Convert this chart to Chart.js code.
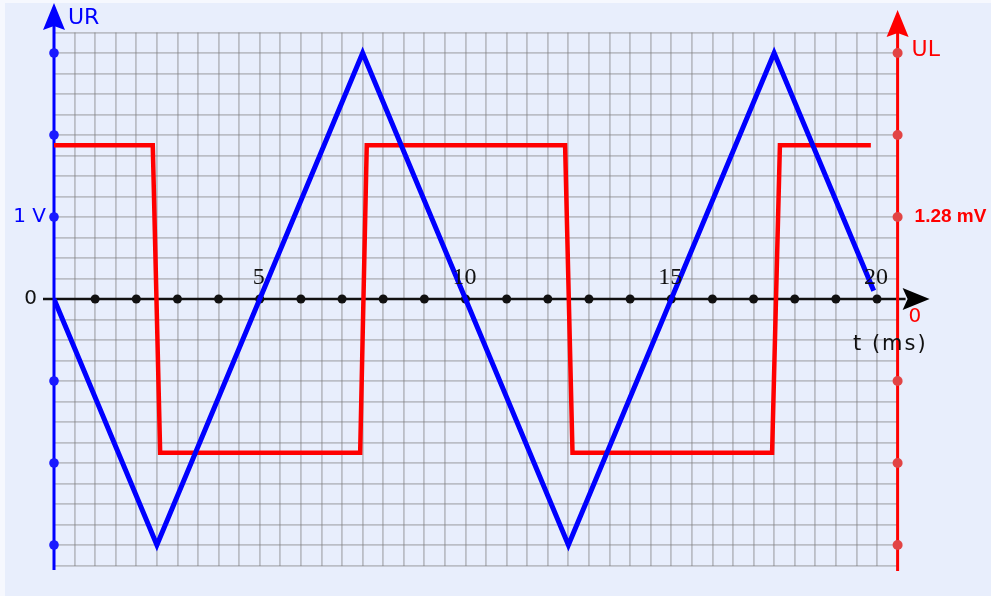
<!DOCTYPE html>
<html>
<head>
<meta charset="utf-8">
<script src="https://cdn.jsdelivr.net/npm/chart.js@4.4.0/dist/chart.umd.min.js"></script>
<style>
  html, body { margin: 0; padding: 0; background: #f6f8fe; }
  #wrap { width: 991px; height: 596px; }
</style>
</head>
<body>
<div id="wrap"><canvas id="osc" width="991" height="596"></canvas></div>
<script>
// UR (V) : triangle, UL (mV) : square, time in ms
const tUR = [0, 2.5, 7.5, 12.5, 17.5, 19.92];
const valUR = [0, -3, 3, -3, 3, 0.1];
const tUL = [0, 2.4, 2.58, 7.44, 7.6, 12.42, 12.6, 17.45, 17.64, 19.85];
const valUL = [2.4, 2.4, -2.4, -2.4, 2.4, 2.4, -2.4, -2.4, 2.4, 2.4];

// graduations
const tLabels = ['5', '10', '15', '20'];
const tLabelPos = [5, 10, 15, 20];
const tDots = [1, 2, 3, 4, 5, 6, 7, 8, 9, 10, 11, 12, 13, 14, 15, 16, 17, 18, 19, 20];
const urDots = [-3, -2, -1, 1, 2, 3];
const ulDots = [-3.84, -2.56, -1.28, 1.28, 2.56, 3.84];

const BG = '#e8eefc';
const GRID = 'rgba(125,125,125,0.42)';

function dot(c, x, y, r, col) {
  c.beginPath();
  c.arc(x, y, r, 0, Math.PI * 2);
  c.fillStyle = col;
  c.fill();
}

function arrowUp(c, x, tip, base, half, col) {
  c.beginPath();
  c.moveTo(x, tip);
  c.lineTo(x + half, base);
  c.lineTo(x, base - 4);
  c.lineTo(x - half, base);
  c.closePath();
  c.fillStyle = col;
  c.fill();
}

const axesPlugin = {
  id: 'oscAxes',
  beforeDraw(chart) {
    const c = chart.ctx;
    c.save();
    c.fillStyle = BG;
    c.fillRect(5, 3, chart.width - 5, chart.height - 3);
    c.restore();
  },
  beforeDatasetsDraw(chart) {
    const c = chart.ctx;
    const { x, y, y2 } = chart.scales;
    const xl = x.getPixelForValue(0);
    const xr = x.getPixelForValue(20.5);
    const y0 = y.getPixelForValue(0);
    c.save();

    // time axis
    c.strokeStyle = '#111';
    c.lineWidth = 2.5;
    c.beginPath();
    c.moveTo(xl - 11, y0);
    c.lineTo(xr + 8, y0);
    c.stroke();
    c.beginPath();
    c.moveTo(xr + 32, y0);
    c.lineTo(xr + 5, y0 - 11);
    c.lineTo(xr + 10, y0);
    c.lineTo(xr + 5, y0 + 11);
    c.closePath();
    c.fillStyle = '#000';
    c.fill();
    tDots.forEach(t => dot(c, x.getPixelForValue(t), y0, 4.5, '#111'));

    // UR axis (left)
    c.strokeStyle = '#0000ff';
    c.lineWidth = 3;
    c.beginPath();
    c.moveTo(xl, 22);
    c.lineTo(xl, 570);
    c.stroke();
    arrowUp(c, xl, 3, 30, 11, '#0000ff');
    urDots.forEach(v => dot(c, xl, y.getPixelForValue(v), 4.8, '#1a1aff'));

    // UL axis (right)
    c.strokeStyle = '#ff0000';
    c.beginPath();
    c.moveTo(xr, 30);
    c.lineTo(xr, 571);
    c.stroke();
    arrowUp(c, xr, 10, 37, 11, '#ff0000');
    ulDots.forEach(v => dot(c, xr, y2.getPixelForValue(v), 5, '#e24444'));

    c.restore();
  },
  afterDraw(chart) {
    const c = chart.ctx;
    const { x, y, y2 } = chart.scales;
    const xl = x.getPixelForValue(0);
    const xr = x.getPixelForValue(20.5);
    const y0 = y.getPixelForValue(0);
    c.save();
    c.textBaseline = 'middle';

    c.font = '24px "Liberation Serif", serif';
    c.fillStyle = '#111';
    c.textAlign = 'center';
    tLabels.forEach((s, i) => c.fillText(s, x.getPixelForValue(tLabelPos[i]) - 1, y0 - 21));

    c.font = '22px "DejaVu Sans", sans-serif';
    c.textAlign = 'left';
    c.fillStyle = '#0000ff';
    c.fillText('UR', xl + 14, 18);
    c.fillStyle = '#ff0000';
    c.fillText('UL', xr + 14, 50);

    c.textAlign = 'right';
    c.font = '20px "DejaVu Sans", sans-serif';
    c.fillStyle = '#0000ff';
    c.fillText('1 V', xl - 8, y.getPixelForValue(1));
    c.fillStyle = '#111';
    c.fillText('0', xl - 17, y0);

    c.textAlign = 'left';
    c.fillStyle = '#ff0000';
    c.fillText('0', xr + 11, y0 + 18);
    c.font = 'bold 19px "Liberation Sans", Arial, sans-serif';
    c.fillText('1.28 mV', xr + 17, y2.getPixelForValue(1.28));

    c.font = '21px "DejaVu Sans", sans-serif';
    c.fillStyle = '#111';
    c.letterSpacing = '2px';
    c.fillText('t (ms)', 853, y0 + 46);
    c.restore();
  }
};

new Chart(document.getElementById('osc'), {
  type: 'line',
  data: {
    datasets: [
      {
        label: 'UR',
        data: tUR.map((t, i) => ({ x: t, y: valUR[i] })),
        yAxisID: 'y',
        borderColor: '#0000ff',
        borderWidth: 5,
        pointRadius: 0,
        tension: 0,
        order: 0
      },
      {
        label: 'UL',
        data: tUL.map((t, i) => ({ x: t, y: valUL[i] })),
        yAxisID: 'y2',
        borderColor: '#ff0000',
        borderWidth: 4.5,
        pointRadius: 0,
        tension: 0,
        order: 1
      }
    ]
  },
  options: {
    responsive: false,
    animation: false,
    layout: { padding: { left: 54, top: 32.5, right: 93.4, bottom: 30.5 } },
    plugins: { legend: { display: false }, tooltip: { enabled: false } },
    scales: {
      x: {
        type: 'linear', min: 0, max: 20.5,
        ticks: { display: false, stepSize: 0.5 },
        grid: { color: GRID, lineWidth: 1.8, drawTicks: false },
        border: { display: false }
      },
      y: {
        min: -3.25, max: 3.25,
        ticks: { display: false, stepSize: 0.25 },
        grid: { color: GRID, lineWidth: 1.8, drawTicks: false },
        border: { display: false }
      },
      y2: { display: false, min: -4.16, max: 4.16 }
    }
  },
  plugins: [axesPlugin]
});
</script>
</body>
</html>
